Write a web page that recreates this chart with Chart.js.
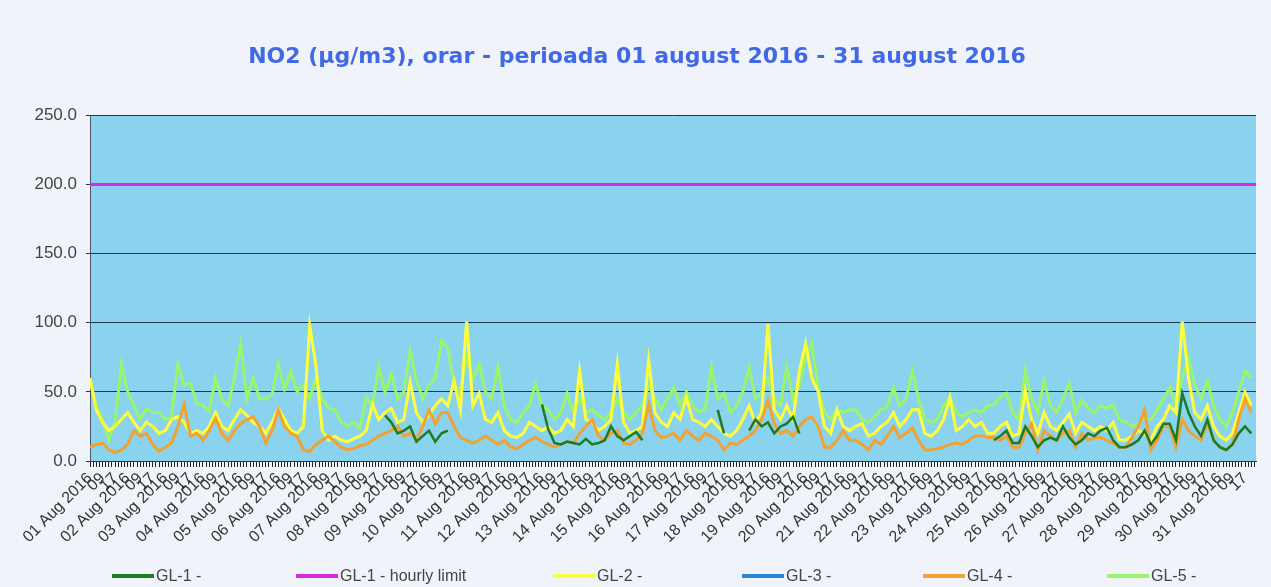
<!DOCTYPE html>
<html>
<head>
<meta charset="utf-8">
<script src="https://cdn.jsdelivr.net/npm/chart.js@4.4.0/dist/chart.umd.min.js"></script>
<style>
  html, body { margin: 0; padding: 0; background: #f0f3f9; }
  #wrap { position: relative; width: 1271px; height: 587px; }
  #legend { position: absolute; left: 0; top: 566px; width: 1271px; height: 20px;
            font: 16px "Liberation Sans", Arial, sans-serif; color: #444; }
  .item { position: absolute; top: 0; height: 20px; display: flex; align-items: center; white-space: nowrap; }
  .swatch { width: 42px; height: 4px; margin-right: 2px; }
</style>
</head>
<body>
<div id="wrap">
  <canvas id="no2Chart" width="1271" height="587"></canvas>
  <div id="legend"></div>
</div>
<script>
// NO2 hourly values, one reading every 4 hours (01, 05, 09, 13, 17, 21), 01-31 Aug 2016
const STEP_HOURS = 4;
const LAST_HOUR = 743;
const monthLabel = "Aug 2016";
const limitValue = 200;
const _ = null;

const gl1 = [
  _,_,_,_,_,_,_,_,_,_, _,_,_,_,_,_,_,_,_,_, _,_,_,_,_,_,_,_,_,_, _,_,_,_,_,_,_,_,_,_, _,_,_,_,_,_,_,
  33,28,20,22,25,14,18,22,14,20,22,
  _,_,_,_,_,_,_,_,_,_,_,_,_,_,
  41,23,13,12,14,13,12,16,12,13,15,25,18,15,18,21,15,
  _,_,_,_,_,_,_,_,_,_,_,
  37,20,
  _,_,_,
  22,30,25,28,20,25,27,32,20,
  _,_,_,_,_,_,_,_,_,_, _,_,_,_,_,_,_,_,_,_, _,_,_,_,_,_,_,_,_,_,
  15,18,22,13,13,25,18,10,15,17, 15,25,17,12,15,20,18,22,24,15,
  10,10,12,15,22,12,18,27,27,15, 49,35,25,18,30,15,10,8,12,20, 25,20
];
const gl2 = [
  60,37,28,22,25,30,35,28,22,28, 25,20,22,30,32,28,20,22,20,25,
  35,25,22,30,37,33,28,25,20,28, 38,30,22,20,25,98,69,22,15,18,
  15,14,16,18,22,41,30,35,38,28, 30,57,35,28,33,40,45,40,58,37,
  101,40,49,30,28,35,22,18,17,20, 28,25,22,25,20,22,30,25,65,30,
  28,22,25,30,70,28,20,22,25,73, 35,28,25,35,30,46,30,28,25,30,
  25,20,18,22,30,40,28,35,99,37, 30,40,30,65,85,60,50,25,20,37,
  25,22,25,27,18,20,25,28,35,25, 30,37,37,20,18,22,30,46,22,25,
  30,25,28,20,20,25,28,18,20,51, 30,20,35,25,22,28,34,20,28,25,
  22,25,22,28,15,15,18,22,20,15, 25,30,40,35,101,60,35,30,40,25,
  18,15,20,35,50,40
];
const gl3 = [];
const gl4 = [
  10,12,13,8,6,8,12,22,18,20, 12,7,10,13,25,41,18,20,15,22,
  31,20,15,22,27,30,32,25,13,22, 37,25,20,18,8,7,12,15,18,14,
  10,8,9,11,12,15,18,20,22,25, 18,20,15,25,37,27,35,35,25,17,
  15,13,15,18,15,12,15,10,9,12, 15,17,14,12,10,12,14,13,20,25,
  30,18,15,20,22,13,12,15,20,41, 22,17,18,20,15,22,18,15,20,18,
  15,8,13,12,15,18,22,30,44,27, 20,22,18,25,30,32,25,10,10,15,
  22,15,15,12,8,15,12,18,25,17, 20,24,15,8,8,9,10,12,13,12,
  15,18,18,17,17,15,18,10,10,20, 27,8,22,18,15,20,22,10,20,15,
  17,17,15,13,10,10,17,25,37,8, 15,25,25,10,30,22,18,15,28,15,
  10,8,12,30,45,35
];
const gl5 = [
  58,40,30,15,28,70,50,40,30,38, 35,35,30,32,70,55,56,42,40,36,
  60,45,40,60,85,45,60,45,45,48, 70,52,65,50,55,45,60,45,38,37,
  28,25,28,24,46,40,68,50,63,45, 50,80,58,45,55,60,87,82,55,50,
  75,60,70,50,45,68,40,30,28,35, 40,56,40,37,30,35,49,35,45,35,
  37,33,30,35,45,35,30,35,40,55, 45,37,45,53,40,50,40,35,38,68,
  45,49,35,40,50,68,45,50,60,45, 40,68,45,55,75,85,53,35,30,37,
  35,37,37,30,28,32,37,39,53,40, 45,65,45,30,28,30,40,46,35,32,
  35,37,35,40,41,46,49,35,30,65, 45,35,58,40,35,45,56,35,44,38,
  35,40,38,41,30,28,25,27,32,30, 37,45,53,40,60,75,55,45,58,40,
  30,25,35,50,65,60
];

const seriesNames = ["GL-1 -", "GL-1 - hourly limit", "GL-2 -", "GL-3 -", "GL-4 -", "GL-5 -"];
const seriesColors = ["#1f7a24", "#d62ae6", "#ffff3c", "#2a86d8", "#f2a233", "#9af56c"];
const legendLeft = [112, 296, 553, 742, 923, 1107];

function toPoints(values) {
  return values.map((v, i) => ({ x: i * STEP_HOURS, y: v }));
}

function hourLabel(h) {
  const day = Math.floor(h / 24) + 1;
  const hr = (h % 24) + 1;
  if (hr === 1) return String(day).padStart(2, "0") + " " + monthLabel;
  return String(hr).padStart(2, "0");
}

const plotBackground = {
  id: "plotBackground",
  beforeDraw(chart) {
    const { ctx, chartArea } = chart;
    ctx.save();
    ctx.fillStyle = "#89d3ef";
    ctx.fillRect(chartArea.left, chartArea.top, chartArea.right - chartArea.left, chartArea.bottom - chartArea.top);
    ctx.restore();
  }
};

const line = (idx, values, order, width) => ({
  label: seriesNames[idx],
  data: toPoints(values),
  borderColor: seriesColors[idx],
  backgroundColor: seriesColors[idx],
  borderWidth: width,
  pointRadius: 0,
  tension: 0,
  spanGaps: false,
  order: order
});

const datasets = [
  line(0, gl1, 2, 2.5),
  {
    label: seriesNames[1],
    data: [{ x: 0, y: limitValue }, { x: LAST_HOUR, y: limitValue }],
    borderColor: seriesColors[1],
    borderWidth: 3,
    pointRadius: 0,
    order: 1
  },
  line(2, gl2, 5, 3),
  line(3, gl3, 4, 3),
  line(4, gl4, 3, 3),
  line(5, gl5, 6, 3)
];

new Chart(document.getElementById("no2Chart"), {
  type: "line",
  data: { datasets: datasets },
  plugins: [plotBackground],
  options: {
    responsive: false,
    animation: false,
    layout: { padding: { left: 18, right: 15, top: 0, bottom: 36 } },
    plugins: {
      legend: { display: false },
      tooltip: { enabled: false },
      title: {
        display: true,
        text: "NO2 (µg/m3), orar - perioada 01 august 2016 - 31 august 2016",
        color: "#4169e6",
        font: { family: "DejaVu Sans", size: 22, weight: "bold" },
        padding: { top: 44, bottom: 45 }
      }
    },
    scales: {
      x: {
        type: "linear",
        min: 0,
        max: LAST_HOUR,
        afterFit: (scale) => { scale.height = 90; },
        border: { color: "#333", width: 1 },
        grid: { drawOnChartArea: false, drawTicks: true, tickLength: 6, color: "#222" },
        ticks: {
          stepSize: 2,
          autoSkip: false,
          includeBounds: false,
          minRotation: 45,
          maxRotation: 45,
          padding: 2,
          color: "#333",
          font: { family: "Liberation Sans", size: 16 },
          callback: (v) => (v % 8 === 0 ? hourLabel(v) : "")
        }
      },
      y: {
        min: 0,
        max: 250,
        afterFit: (scale) => { scale.width = 72; },
        border: { color: "#4a5566", width: 1 },
        grid: { color: "#1f3550", lineWidth: 1, tickLength: 4 },
        ticks: {
          stepSize: 50,
          padding: 9,
          color: "#444",
          font: { family: "Liberation Sans", size: 17 },
          callback: (v) => v.toFixed(1)
        }
      }
    }
  }
});

// legend under the chart
const legendBox = document.getElementById("legend");
seriesNames.forEach((name, i) => {
  const item = document.createElement("div");
  item.className = "item";
  item.style.left = legendLeft[i] + "px";
  item.innerHTML = `<span class="swatch" style="background:${seriesColors[i]}"></span><span>${name}</span>`;
  legendBox.appendChild(item);
});
</script>
</body>
</html>
